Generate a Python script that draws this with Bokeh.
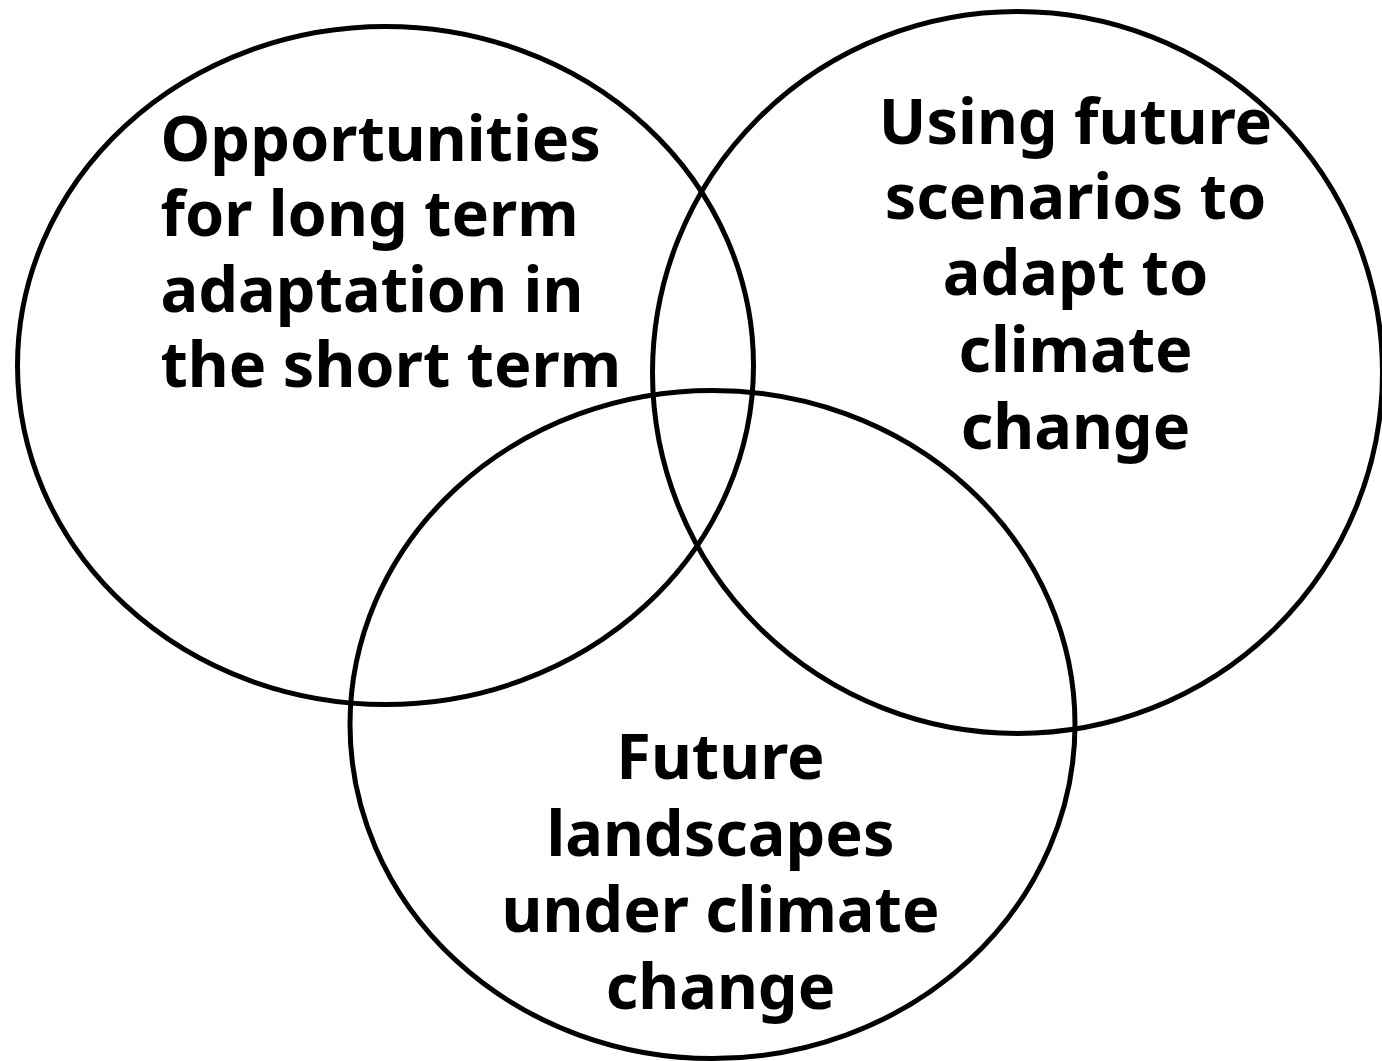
from bokeh.plotting import figure
from bokeh.models import Range1d, ColumnDataSource
from bokeh.core.properties import value
from bokeh.embed import file_html
from bokeh.resources import INLINE

# Venn sets (centre and extent in picture units)
set_names = ["Opportunities for long term adaptation in the short term",
             "Using future scenarios to adapt to climate change",
             "Future landscapes under climate change"]
set_cx = [385, 1017, 712]
set_cy = [365, 372, 724]
set_w = [736, 730, 725]
set_h = [678, 722, 668]

# Label lines per set
left_lines = ["Opportunities", "for long term", "adaptation in", "the short term"]
left_x = [160, 160, 160, 160]
left_y = [162, 237, 313, 388]

right_lines = ["Using future", "scenarios to", "adapt to", "climate", "change"]
right_x = [1075, 1075, 1075, 1075, 1075]
right_y = [145, 220, 296, 373, 450]

bottom_lines = ["Future", "landscapes", "under climate", "change"]
bottom_x = [720, 720, 720, 720]
bottom_y = [780, 857, 933, 1010]

W, H = 1382, 1061
p = figure(width=W, height=H, output_backend="svg", toolbar_location=None,
           x_range=Range1d(0, W), y_range=Range1d(H, 0),
           min_border=0, outline_line_color=None)
p.axis.visible = False
p.grid.visible = False
p.background_fill_color = "white"
p.border_fill_color = "white"

src = ColumnDataSource(dict(x=set_cx, y=set_cy, w=set_w, h=set_h, name=set_names))
p.ellipse(x="x", y="y", width="w", height="h", source=src,
          fill_color=None, line_color="black", line_width=5)

common = dict(text_font=value("Noto Sans"), text_font_style="bold",
              text_font_size="63px", text_color="black",
              text_baseline="alphabetic", y_offset=-26)
p.text(x=left_x, y=left_y, text=left_lines, text_align="left", **common)
p.text(x=right_x, y=right_y, text=right_lines, text_align="center", **common)
p.text(x=bottom_x, y=bottom_y, text=bottom_lines, text_align="center", **common)

open("out.html", "w").write(file_html(p, INLINE))
